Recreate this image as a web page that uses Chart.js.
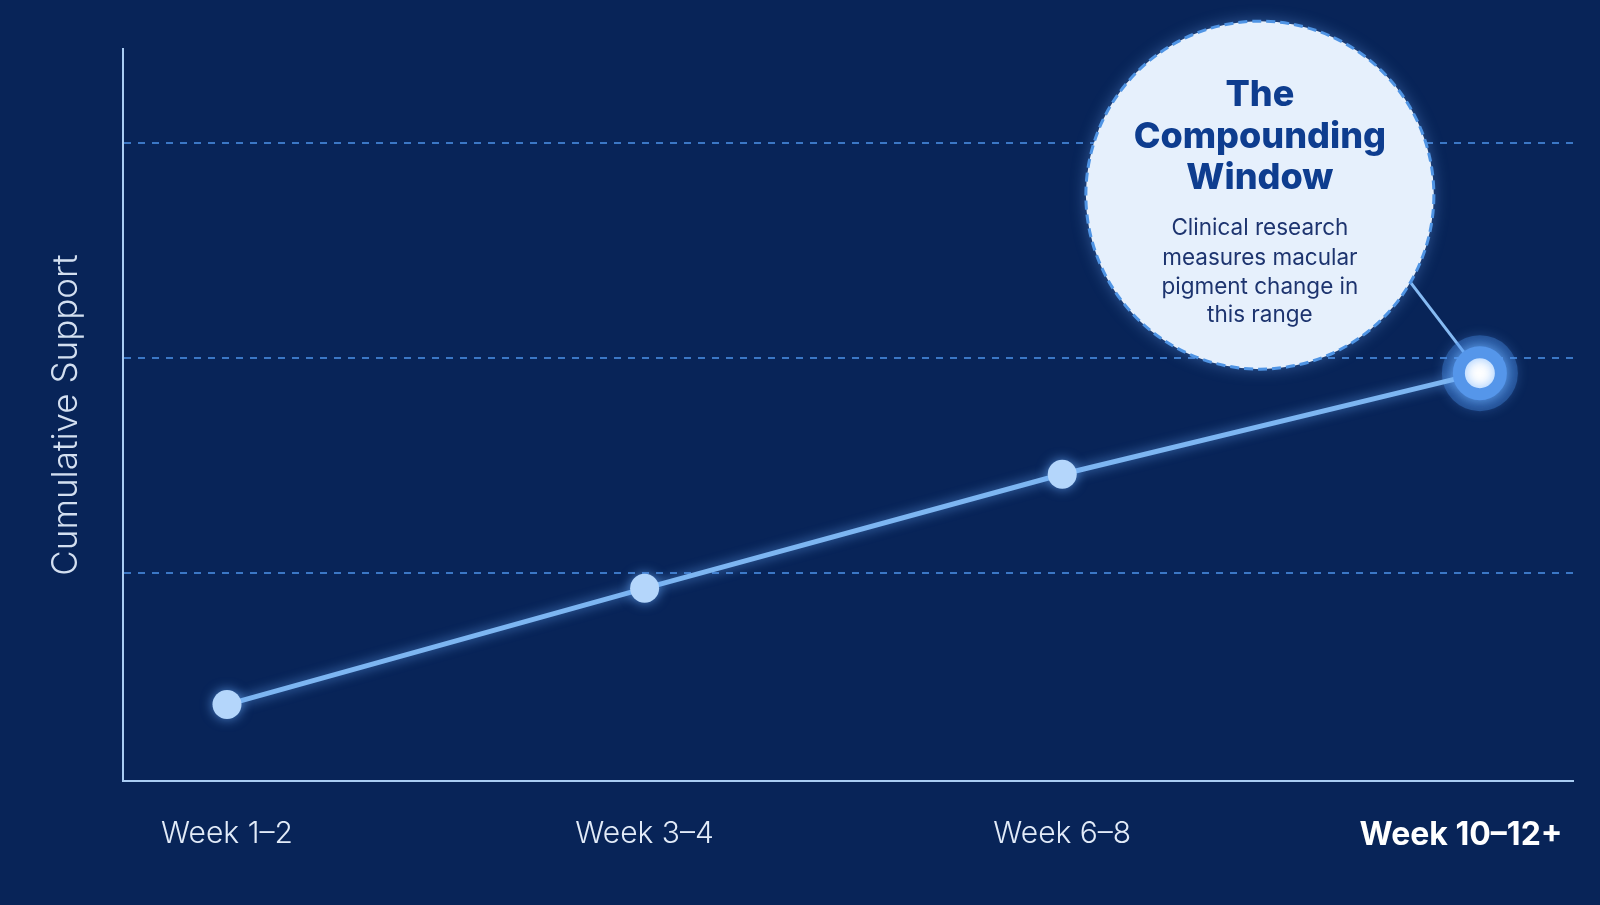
<!DOCTYPE html>
<html><head><meta charset="utf-8">
<script src="https://cdn.jsdelivr.net/npm/chart.js@4.4.1/dist/chart.umd.min.js"></script>
<style>
html,body{margin:0;padding:0;background:#082458;overflow:hidden}
#wrap{width:1600px;height:905px;position:relative}
canvas{display:block}
</style></head><body>
<div id="wrap"><canvas id="c" width="1600" height="905"></canvas></div>
<script>
const categories = ['Week 1–2', 'Week 3–4', 'Week 6–8', 'Week 10–12+'];
const supportValues = [0.39, 0.93, 1.46, 1.93];
const gridValues = [1, 2, 3];
const axisTitle = 'Cumulative Support';
const calloutTitle = ['The', 'Compounding', 'Window'];
const calloutBody = ['Clinical research', 'measures macular', 'pigment change in', 'this range'];
const highlightIndex = 3;

const mainPoints = categories.map((c, i) => ({x: i, y: supportValues[i]}));
const haloPoints = categories.map((c, i) => ({x: i, y: i === highlightIndex ? supportValues[i] : null}));

const glow = {
  id: 'glow',
  beforeDatasetDraw(chart) {
    const ctx = chart.ctx;
    ctx.save();
    ctx.shadowColor = 'rgba(110,175,255,0.7)';
    ctx.shadowBlur = 12;
  },
  afterDatasetDraw(chart) { chart.ctx.restore(); }
};

const callout = {
  id: 'callout',
  beforeDatasetsDraw(chart) {
    const {ctx, scales: {x, y}} = chart;
    const px = x.getPixelForValue(highlightIndex);
    const py = y.getPixelForValue(supportValues[highlightIndex]);
    const cx = px - 220, cy = py - 178, r = 174;
    const a = Math.atan2(88, 152);
    ctx.save();
    ctx.strokeStyle = '#86bbf3';
    ctx.lineWidth = 3;
    ctx.beginPath();
    ctx.moveTo(cx + r * Math.cos(a), cy + r * Math.sin(a));
    ctx.lineTo(px, py);
    ctx.stroke();
    ctx.beginPath();
    ctx.arc(cx, cy, r, 0, Math.PI * 2);
    ctx.shadowColor = 'rgba(120,180,255,0.4)';
    ctx.shadowBlur = 16;
    ctx.fillStyle = '#e6f0fc';
    ctx.fill();
    ctx.shadowBlur = 0;
    ctx.shadowColor = 'transparent';
    ctx.setLineDash([9, 5]);
    ctx.lineWidth = 3;
    ctx.strokeStyle = '#4f94e4';
    ctx.stroke();
    ctx.setLineDash([]);
    ctx.textAlign = 'center';
    ctx.textBaseline = 'alphabetic';
    ctx.fillStyle = '#0e3d8f';
    ctx.font = '800 36px Inter';
    const tOff = [-89, -47, -6];
    calloutTitle.forEach((t, i) => ctx.fillText(t, cx, cy + tOff[i]));
    ctx.fillStyle = '#1d346f';
    ctx.font = '400 22.5px Inter';
    const bOff = [40, 70, 99, 127];
    calloutBody.forEach((t, i) => ctx.fillText(t, cx, cy + bOff[i]));
    ctx.restore();
  }
};

new Chart(document.getElementById('c'), {
  type: 'line',
  data: {
    datasets: [
      {
        label: 'Cumulative Support',
        data: mainPoints,
        order: 0,
        borderColor: '#7db6f2',
        borderWidth: 5,
        tension: 0,
        pointRadius: ctx => ctx.dataIndex === highlightIndex ? 21 : 14.5,
        pointHoverRadius: ctx => ctx.dataIndex === highlightIndex ? 21 : 14.5,
        pointBackgroundColor: ctx => ctx.dataIndex === highlightIndex ? '#ffffff' : '#b4d6fb',
        pointBorderColor: '#5596ea',
        pointBorderWidth: ctx => ctx.dataIndex === highlightIndex ? 12 : 0
      },
      {
        label: 'halo',
        data: haloPoints,
        order: 1,
        showLine: false,
        pointRadius: 38,
        pointBackgroundColor: 'rgba(70,140,235,0.35)',
        pointBorderWidth: 0
      }
    ]
  },
  options: {
    responsive: false,
    animation: false,
    devicePixelRatio: 1,
    events: [],
    layout: {autoPadding: false, padding: {top: 49, right: 27, left: 0, bottom: 0}},
    plugins: {legend: {display: false}, tooltip: {enabled: false}},
    scales: {
      x: {
        type: 'linear',
        min: -0.249,
        max: 3.223,
        afterBuildTicks: s => {
          s.ticks = categories.map((c, i) => ({value: i === highlightIndex ? i - 0.045 : i}));
        },
        afterFit: s => { s.height = 124; s.paddingLeft = 0; s.paddingRight = 0; },
        grid: {display: false, drawTicks: false},
        border: {display: true, color: '#a9ccf3', width: 2},
        ticks: {
          autoSkip: false,
          maxRotation: 0,
          padding: 35,
          callback: (v, i) => categories[i],
          color: ctx => ctx.index === highlightIndex ? '#ffffff' : '#e2ebf8',
          font: ctx => ctx.index === highlightIndex
            ? {family: 'Inter', size: 32, weight: '700'}
            : {family: 'Inter', size: 30, weight: '300'}
        }
      },
      y: {
        type: 'linear',
        min: 0.035,
        max: 3.436,
        afterBuildTicks: s => { s.ticks = gridValues.map(v => ({value: v})); },
        afterFit: s => { s.width = 123; },
        grid: {color: 'rgba(72,140,225,0.8)', lineWidth: 2, drawTicks: false},
        border: {display: true, color: '#a9ccf3', width: 2, dash: [7, 7]},
        ticks: {display: false},
        title: {
          display: true,
          text: axisTitle,
          color: '#d3dff0',
          font: {family: 'Inter', size: 35, weight: '300'},
          padding: {top: 45, bottom: 0}
        }
      }
    }
  },
  plugins: [glow, callout]
});
</script>
</body></html>
